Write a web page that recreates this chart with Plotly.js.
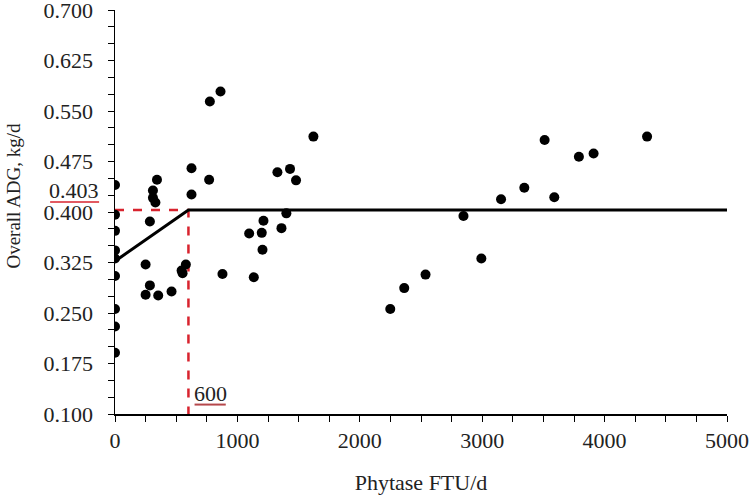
<!DOCTYPE html>
<html>
<head>
<meta charset="utf-8">
<script src="https://cdn.plot.ly/plotly-3.0.1.min.js"></script>
<style>
  html, body { margin: 0; padding: 0; background: #fff; }
  #chart { width: 750px; height: 498px; }
</style>
</head>
<body>
<div id="chart"></div>
<script>
// observed points (phytase FTU/d, ADG kg/d)
var phytase = [0, 0, 0, 0, 0, 0, 0, 0, 0,
    285, 310, 330, 343, 310,
    250, 285, 250, 353, 462, 544, 552, 579, 878,
    625, 625, 769, 775, 862,
    1096, 1134, 1199, 1205, 1213, 1327, 1360, 1400, 1430, 1479, 1621,
    2249, 2363, 2537, 2847, 2993, 3154, 3344, 3510, 3589, 3790, 3910, 4347];
var adg = [0.440, 0.396, 0.372, 0.343, 0.331, 0.305, 0.256, 0.230, 0.191,
    0.386, 0.421, 0.414, 0.448, 0.432,
    0.322, 0.291, 0.277, 0.276, 0.282, 0.313, 0.309, 0.322, 0.308,
    0.465, 0.426, 0.448, 0.564, 0.579,
    0.368, 0.303, 0.369, 0.344, 0.387, 0.459, 0.376, 0.398, 0.464, 0.447, 0.512,
    0.256, 0.287, 0.307, 0.394, 0.331, 0.419, 0.436, 0.507, 0.422, 0.482, 0.487, 0.512];

// broken-line fit and breakpoint
var fitX = [0, 600, 5000];
var fitY = [0.327, 0.403, 0.403];
var breakX = [0, 600, 600];
var breakY = [0.403, 0.403, 0.1];

var yTicks = [0.100, 0.175, 0.250, 0.325, 0.400, 0.475, 0.550, 0.625, 0.700];
var yTickText = ['0.100', '0.175', '0.250', '0.325', '0.400', '0.475', '0.550', '0.625', '0.700'];
var xTicks = [0, 1000, 2000, 3000, 4000, 5000];

var serif = 'Liberation Serif, Times New Roman, serif';
var red = '#d8232e';
var txt = { family: serif, size: 22, color: '#222' };

var traces = [
    {
        x: breakX, y: breakY, mode: 'lines', type: 'scatter',
        line: { color: red, width: 2.5, dash: 'dash' },
        hoverinfo: 'skip'
    },
    {
        x: fitX, y: fitY, mode: 'lines', type: 'scatter',
        line: { color: '#000', width: 3 },
        hoverinfo: 'skip'
    },
    {
        x: phytase, y: adg, mode: 'markers', type: 'scatter',
        marker: { color: '#000', size: 10 }
    }
];

var layout = {
    width: 750,
    height: 498,
    margin: { l: 115, r: 23, t: 10, b: 84 },
    showlegend: false,
    paper_bgcolor: '#fff',
    plot_bgcolor: '#fff',
    font: txt,
    xaxis: {
        range: [0, 5000],
        tickvals: xTicks,
        ticks: 'outside', ticklen: 6, tickwidth: 1, tickcolor: '#000',
        ticklabeloverflow: 'allow',
        minor: { dtick: 250, ticks: 'outside', ticklen: 6, tickcolor: '#000' },
        showline: true, linecolor: '#000', linewidth: 1.5,
        showgrid: false, zeroline: false,
        tickfont: txt,
        title: { text: 'Phytase FTU/d', font: txt, standoff: 22 }
    },
    yaxis: {
        range: [0.1, 0.7],
        tickvals: yTicks, ticktext: yTickText,
        ticks: 'outside', ticklen: 6, tickwidth: 1, tickcolor: '#000',
        ticklabelstandoff: 10,
        ticklabeloverflow: 'allow',
        minor: { dtick: 0.025, ticks: 'outside', ticklen: 6, tickcolor: '#000' },
        showline: true, linecolor: '#000', linewidth: 1.5,
        showgrid: false, zeroline: false,
        tickfont: txt
    },
    annotations: [
        {
            xref: 'paper', yref: 'y', x: -0.166, y: 0.425,
            xanchor: 'center', yanchor: 'middle',
            text: 'Overall ADG, kg/d', textangle: -90, showarrow: false,
            font: { family: serif, size: 19, color: '#222' }
        },
        {
            xref: 'paper', yref: 'y', x: -0.067, y: 0.403, yshift: 19,
            xanchor: 'center', yanchor: 'middle',
            text: '0.403', showarrow: false,
            font: txt
        },
        {
            xref: 'x', yref: 'y', x: 780, y: 0.130,
            xanchor: 'center', yanchor: 'middle',
            text: '600', showarrow: false,
            font: txt
        }
    ],
    shapes: [
        {
            type: 'line', xref: 'paper', yref: 'y',
            x0: -0.106, x1: -0.026, y0: 0.415, y1: 0.415,
            line: { color: red, width: 1.5 }
        },
        {
            type: 'line', xref: 'x', yref: 'y',
            x0: 650, x1: 905, y0: 0.114, y1: 0.114,
            line: { color: '#b5474b', width: 2 }
        }
    ]
};

Plotly.newPlot('chart', traces, layout, { displayModeBar: false, staticPlot: true });
</script>
</body>
</html>
